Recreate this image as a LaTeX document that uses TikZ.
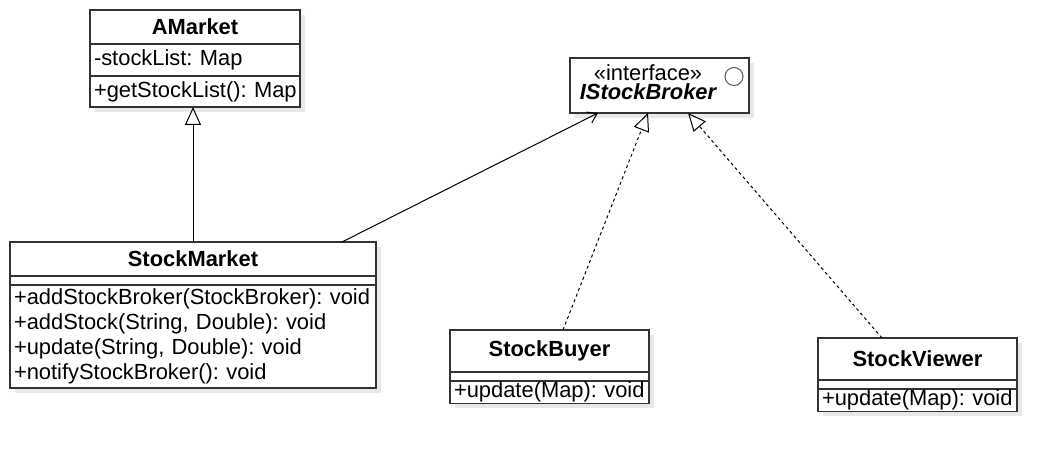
\documentclass[tikz,border=0pt]{standalone}
\usepackage{fontspec}
\setmainfont{Liberation Sans}
\usetikzlibrary{positioning, arrows.meta, shadows}
\frenchspacing

\begin{document}
\begin{tikzpicture}[x=0.5pt, y=-0.5pt]
		\tikzset{
			every node/.style={font=\fontsize{10.95}{12.5}\selectfont, outer sep=0pt},
			boxshadow/.style={drop shadow={shadow xshift=2.5pt, shadow yshift=-2.5pt, fill=black!9, opacity=1}},
			classhead/.style={draw=black!80, line width=0.7pt, fill=white, boxshadow, text width=#1, align=center, inner xsep=2pt, inner ysep=0pt, font=\fontsize{10.95}{12.5}\selectfont\bfseries},
			classpart/.style={draw=black!80, line width=0.7pt, fill=white, boxshadow, text width=#1, align=left, inner xsep=2pt, inner ysep=0.5pt},
			classempty/.style={draw=black!80, line width=0.7pt, fill=white, boxshadow, minimum width=#1, minimum height=4.5pt, inner sep=0pt},
			inherit/.style={-{Triangle[open, length=9pt, width=8pt]}, line width=0.5pt},
			realize/.style={inherit, dash pattern=on 1.5pt off 1.5pt},
			assoc/.style={-{Straight Barb[length=4.5pt, width=6pt]}, line width=0.5pt}
		}
		\useasboundingbox (0,0) rectangle (1057,453);
		
		% AMarket
		\node[classhead=101pt, minimum height=17pt, anchor=north west] (amhead) at (90,10) {AMarket};
		\node[classpart=101pt, minimum height=16pt, below=0pt of amhead] (amattr) {-stockList:~Map};
		\node[classpart=101pt, minimum height=15.5pt, below=0pt of amattr] (ammeth) {+getStockList():~Map};
		
		% IStockBroker
		\node[draw=black!80, line width=0.7pt, fill=white, boxshadow, minimum width=89.5pt, minimum height=27.5pt, anchor=north west] (broker) at (570,58) {};
		\node[anchor=base, inner sep=0pt] (brokerstereo) at ([xshift=39pt, yshift=-11.5pt]broker.north west) {«interface»};
		\node[anchor=base, inner sep=0pt, font=\fontsize{10.95}{12.5}\selectfont\bfseries\itshape] (brokername) at ([xshift=39pt, yshift=-21pt]broker.north west) {IStockBroker};
		\node[draw=black!65, line width=0.5pt, circle, minimum size=9pt, inner sep=0pt] (brokericon) at ([xshift=-7.5pt, yshift=-9.25pt]broker.north east) {};
		
		% StockMarket
		\node[classhead=179pt, minimum height=17pt, anchor=north west] (smhead) at (10,242) {StockMarket};
		\node[classempty=183pt, below=0pt of smhead] (smattr) {};
		\node[classpart=179pt, minimum height=51.5pt, below=0pt of smattr] (smmeth) {+addStockBroker(StockBroker):~void\\+addStock(String, Double):~void\\+update(String, Double):~void\\+notifyStockBroker():~void};
		
		% StockBuyer
		\node[classhead=95.5pt, minimum height=21pt, anchor=north west] (sbhead) at (450,330) {StockBuyer};
		\node[classempty=99.5pt, below=0pt of sbhead] (sbattr) {};
		\node[classpart=95.5pt, minimum height=11pt, below=0pt of sbattr] (sbmeth) {+update(Map):~void};
		
		% StockViewer
		\node[classhead=95.5pt, minimum height=21pt, anchor=north west] (svhead) at (818,338) {StockViewer};
		\node[classempty=99.5pt, below=0pt of svhead] (svattr) {};
		\node[classpart=95.5pt, minimum height=11pt, below=0pt of svattr] (svmeth) {+update(Map):~void};
		
		% Relations
		\draw[inherit] (smhead.north) -- (smhead.north |- ammeth.south);
		\draw[assoc] ([xshift=-17pt]smhead.north east) -- ([xshift=14pt]broker.south west);
		\draw[realize] ([xshift=6.75pt]sbhead.north) -- ([xshift=-5.75pt]broker.south);
		\draw[realize] ([xshift=-17.75pt]svhead.north) -- ([xshift=14.25pt]broker.south);
		
	\end{tikzpicture}
\end{document}
